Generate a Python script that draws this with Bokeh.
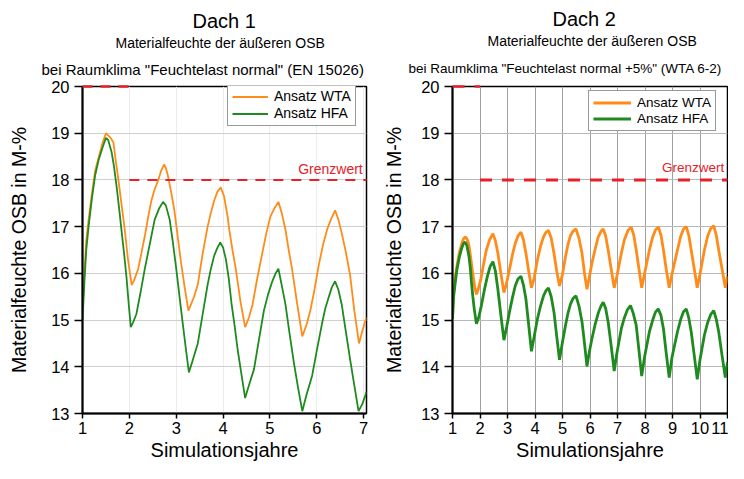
from bokeh.plotting import figure
from bokeh.models import Range1d, Label, Legend, LegendItem, FixedTicker, Title
from bokeh.layouts import row
from bokeh.embed import file_html
from bokeh.resources import INLINE

FONT = "Liberation Sans"
ORANGE = "#ff8c1a"
GREEN = "#1f8a1f"
RED = "#e8202a"

# ---------------- Dach 1 data ----------------
d1_wta_x = [1.00, 1.04, 1.08, 1.13, 1.20, 1.27, 1.35, 1.43, 1.50, 1.55, 1.60, 1.66, 1.71, 1.76, 1.83, 1.90,
            1.97, 2.05, 2.10, 2.19, 2.26, 2.33, 2.40, 2.47, 2.54, 2.61, 2.68, 2.74, 2.78, 2.82, 2.89, 2.96,
            3.03, 3.10, 3.18, 3.26, 3.30, 3.38, 3.46, 3.56, 3.67, 3.74, 3.81, 3.88, 3.95, 4.02, 4.10, 4.13,
            4.20, 4.27, 4.37, 4.47, 4.55, 4.63, 4.73, 4.84, 4.92, 5.01, 5.10, 5.18, 5.25, 5.33, 5.40, 5.47,
            5.58, 5.69, 5.78, 5.86, 5.95, 6.04, 6.13, 6.22, 6.30, 6.39, 6.46, 6.53, 6.62, 6.71, 6.80, 6.90,
            6.98, 7.06]
d1_wta_y = [15.2, 16.0, 16.7, 17.15, 17.7, 18.2, 18.5, 18.8, 19.0, 18.95, 18.9, 18.8, 18.4, 18.05, 17.5, 16.95,
            16.3, 15.75, 15.85, 16.1, 16.45, 16.8, 17.2, 17.56, 17.8, 17.98, 18.2, 18.33, 18.25, 18.1, 17.75, 17.35,
            16.8, 16.25, 15.7, 15.2, 15.3, 15.5, 15.76, 16.4, 17.0, 17.3, 17.56, 17.75, 17.84, 17.65, 17.2, 16.94,
            16.5, 16.1, 15.4, 14.85, 15.05, 15.34, 15.9, 16.45, 16.85, 17.22, 17.4, 17.53, 17.3, 16.94, 16.5, 16.1,
            15.35, 14.65, 14.9, 15.2, 15.65, 16.17, 16.6, 16.94, 17.15, 17.35, 17.15, 16.87, 16.45, 15.96, 15.2, 14.5,
            14.8, 15.06]

d1_hfa_x = [1.00, 1.04, 1.08, 1.13, 1.20, 1.27, 1.35, 1.43, 1.50, 1.55, 1.62, 1.67, 1.73, 1.78, 1.83, 1.89,
            1.94, 1.99, 2.03, 2.08, 2.15, 2.24, 2.33, 2.44, 2.54, 2.64, 2.72, 2.78, 2.86, 2.93, 3.00, 3.07,
            3.14, 3.21, 3.27, 3.34, 3.46, 3.56, 3.67, 3.74, 3.81, 3.88, 3.94, 4.00, 4.06, 4.12, 4.18, 4.25,
            4.31, 4.39, 4.47, 4.55, 4.66, 4.76, 4.87, 4.96, 5.05, 5.12, 5.18, 5.24, 5.33, 5.42, 5.51, 5.60,
            5.69, 5.78, 5.90, 6.00, 6.11, 6.18, 6.25, 6.32, 6.39, 6.46, 6.53, 6.62, 6.71, 6.80, 6.89, 6.97,
            7.06]
d1_hfa_y = [15.0, 15.8, 16.5, 17.0, 17.6, 18.1, 18.45, 18.7, 18.9, 18.85, 18.6, 18.3, 17.84, 17.4, 16.94, 16.4,
            15.9, 15.3, 14.85, 14.95, 15.13, 15.6, 16.1, 16.65, 17.15, 17.4, 17.53, 17.45, 17.15, 16.65, 16.1, 15.5,
            14.92, 14.35, 13.88, 14.1, 14.5, 15.1, 15.76, 16.1, 16.38, 16.55, 16.66, 16.55, 16.3, 15.9, 15.35, 14.85,
            14.37, 13.85, 13.33, 13.6, 13.95, 14.55, 15.2, 15.55, 15.83, 16.0, 16.1, 15.8, 15.34, 14.7, 14.09, 13.55,
            13.05, 13.4, 13.81, 14.35, 14.92, 15.25, 15.48, 15.7, 15.83, 15.65, 15.34, 14.75, 14.16, 13.6, 13.05, 13.2,
            13.46]

# ---------------- Dach 2 data ----------------
d2_wta_x = [1.00, 1.03, 1.08, 1.16, 1.25, 1.34, 1.41, 1.48, 1.54, 1.60, 1.67, 1.75, 1.81, 1.87, 1.93, 2.03,
            2.13, 2.23, 2.35, 2.47, 2.56, 2.65, 2.76, 2.87, 2.95, 3.07, 3.18, 3.28, 3.38, 3.49, 3.58, 3.67,
            3.77, 3.87, 3.97, 4.09, 4.20, 4.31, 4.40, 4.49, 4.59, 4.69, 4.79, 4.89, 4.99, 5.11, 5.20, 5.29,
            5.38, 5.49, 5.60, 5.71, 5.80, 5.89, 5.97, 6.07, 6.18, 6.30, 6.40, 6.48, 6.57, 6.66, 6.77, 6.88,
            6.98, 7.14, 7.25, 7.38, 7.50, 7.59, 7.68, 7.78, 7.88, 7.98, 8.16, 8.28, 8.38, 8.49, 8.58, 8.67,
            8.77, 8.88, 8.98, 9.18, 9.30, 9.40, 9.50, 9.59, 9.68, 9.79, 9.90, 10.00, 10.16, 10.28, 10.39, 10.50,
            10.59, 10.68, 10.80, 10.92, 11.00]
d2_wta_y = [15.05, 15.5, 15.85, 16.15, 16.45, 16.64, 16.75, 16.78, 16.72, 16.6, 16.3, 15.94, 15.7, 15.55, 15.65, 15.87,
            16.2, 16.5, 16.72, 16.85, 16.7, 16.43, 16.0, 15.59, 15.75, 16.08, 16.4, 16.64, 16.8, 16.88, 16.72, 16.43,
            16.05, 15.69, 15.9, 16.29, 16.58, 16.78, 16.88, 16.92, 16.75, 16.43, 16.05, 15.73, 15.95, 16.36, 16.62, 16.81,
            16.9, 16.95, 16.75, 16.43, 16.0, 15.66, 15.9, 16.22, 16.5, 16.78, 16.9, 16.95, 16.8, 16.5, 16.1, 15.69,
            15.95, 16.43, 16.72, 16.92, 16.99, 16.82, 16.5, 16.1, 15.69, 15.98, 16.5, 16.78, 16.93, 16.99, 16.82, 16.5,
            16.1, 15.69, 15.98, 16.5, 16.8, 16.95, 17.0, 16.82, 16.5, 16.1, 15.69, 15.98, 16.5, 16.8, 16.96, 17.02,
            16.82, 16.5, 16.1, 15.69, 15.94]

d2_hfa_x = [1.00, 1.04, 1.10, 1.16, 1.25, 1.34, 1.40, 1.46, 1.52, 1.60, 1.65, 1.69, 1.74, 1.79, 1.87, 1.95,
            2.05, 2.16, 2.27, 2.37, 2.47, 2.56, 2.65, 2.76, 2.87, 2.97, 3.07, 3.18, 3.28, 3.38, 3.49, 3.58,
            3.67, 3.77, 3.87, 3.97, 4.09, 4.20, 4.31, 4.40, 4.49, 4.59, 4.69, 4.79, 4.89, 4.99, 5.11, 5.20,
            5.29, 5.38, 5.49, 5.60, 5.71, 5.80, 5.89, 5.97, 6.07, 6.18, 6.30, 6.40, 6.48, 6.57, 6.66, 6.77,
            6.88, 6.98, 7.14, 7.25, 7.36, 7.47, 7.57, 7.68, 7.78, 7.88, 7.98, 8.16, 8.28, 8.38, 8.48, 8.58,
            8.67, 8.77, 8.88, 8.98, 9.18, 9.30, 9.40, 9.50, 9.59, 9.68, 9.79, 9.90, 10.00, 10.16, 10.28, 10.39,
            10.50, 10.59, 10.68, 10.80, 10.92, 11.00]
d2_hfa_y = [15.03, 15.5, 15.8, 16.08, 16.35, 16.55, 16.64, 16.67, 16.6, 16.36, 16.1, 15.8, 15.5, 15.24, 14.92, 15.05,
            15.31, 15.65, 15.94, 16.15, 16.25, 16.05, 15.66, 15.1, 14.57, 14.85, 15.17, 15.48, 15.73, 15.88, 15.94, 15.75,
            15.45, 14.9, 14.33, 14.65, 15.03, 15.3, 15.52, 15.63, 15.69, 15.5, 15.17, 14.65, 14.15, 14.5, 14.89, 15.15,
            15.34, 15.46, 15.52, 15.3, 14.96, 14.5, 14.01, 14.3, 14.6, 14.89, 15.15, 15.3, 15.38, 15.25, 14.96, 14.45,
            13.91, 14.3, 14.82, 15.05, 15.22, 15.31, 15.15, 14.89, 14.35, 13.8, 14.2, 14.75, 15.0, 15.17, 15.24, 15.1,
            14.82, 14.3, 13.77, 14.2, 14.75, 15.02, 15.18, 15.24, 15.05, 14.75, 14.25, 13.73, 14.15, 14.68, 14.95, 15.12,
            15.2, 15.02, 14.75, 14.25, 13.77, 14.1]

# limit lines
grenz_value = 18
top_value = 20
d1_grenz_x = [2.0, 7.06]
d1_top_x = [1.0, 2.0]
d2_grenz_x = [2.0, 11.0]
d2_top_x = [1.0, 2.0]

y_ticks = [13, 14, 15, 16, 17, 18, 19, 20]
d1_x_ticks = [1, 2, 3, 4, 5, 6, 7]
d2_x_ticks = [1, 2, 3, 4, 5, 6, 7, 8, 9, 10, 11]

titles = ["Dach 1", "Dach 2"]
sub1 = ["Materialfeuchte der äußeren OSB", "Materialfeuchte der äußeren OSB"]
sub2 = ['bei Raumklima "Feuchtelast normal" (EN 15026)', 'bei Raumklima "Feuchtelast normal +5%" (WTA 6-2)']
legend_labels = ["Ansatz WTA", "Ansatz HFA"]
limit_label = "Grenzwert"

H = 463


def make_fig(width, border_left, border_right, border_top, border_bottom, x_end, x_ticks,
             vgrid_color, hgrid_color):
    p = figure(width=width, height=H, output_backend="svg", toolbar_location=None,
               x_range=Range1d(1, x_end), y_range=Range1d(13, 20),
               min_border_left=border_left, min_border_right=border_right,
               min_border_top=border_top, min_border_bottom=border_bottom)
    p.background_fill_color = "white"
    p.border_fill_color = "white"
    p.outline_line_color = "black"
    p.outline_line_width = 1.5
    p.xaxis.ticker = FixedTicker(ticks=x_ticks)
    p.yaxis.ticker = FixedTicker(ticks=y_ticks)
    for ax in (p.xaxis[0], p.yaxis[0]):
        ax.axis_line_color = "black"
        ax.axis_line_width = 2
        ax.major_tick_line_color = "black"
        ax.major_tick_line_width = 1.5
        ax.major_tick_in = 0
        ax.minor_tick_line_color = None
        ax.major_label_text_font = FONT
        ax.major_label_text_font_size = "16.5px"
        ax.major_label_text_color = "black"
        ax.axis_label_text_font = FONT
        ax.axis_label_text_font_style = "normal"
        ax.axis_label_text_color = "black"
    p.xaxis.axis_label_text_font_size = "20px"
    p.yaxis.axis_label_text_font_size = "19.5px"
    p.yaxis.major_tick_out = 8
    p.xaxis.major_tick_out = 5
    p.yaxis.major_label_standoff = 5
    p.xaxis.major_label_standoff = 3
    p.xaxis.axis_label = "Simulationsjahre"
    p.yaxis.axis_label = "Materialfeuchte OSB in M-%"
    p.xaxis.axis_label_standoff = 2
    p.xgrid.ticker = FixedTicker(ticks=x_ticks)
    p.ygrid.ticker = FixedTicker(ticks=y_ticks)
    p.xgrid.grid_line_color = vgrid_color
    p.ygrid.grid_line_color = hgrid_color
    p.xgrid.grid_line_width = 1
    p.ygrid.grid_line_width = 1
    return p


def add_titles(p, i, offs, s2_size, first_standoff):
    # first added sits closest to the frame
    p.add_layout(Title(text=sub2[i], align="left", text_font=FONT, text_font_size=s2_size,
                       text_font_style="normal", text_color="black", standoff=first_standoff,
                       offset=offs[2]), "above")
    p.add_layout(Title(text=sub1[i], align="left", text_font=FONT, text_font_size="14px",
                       text_font_style="normal", text_color="black", standoff=0, offset=offs[1]), "above")
    p.add_layout(Title(text=titles[i], align="left", text_font=FONT, text_font_size="20px",
                       text_font_style="normal", text_color="black", standoff=2, offset=offs[0]), "above")


def add_legend(p, ra, rb, loc, fsize, gw):
    lg = Legend(items=[LegendItem(label=legend_labels[0], renderers=[ra]),
                       LegendItem(label=legend_labels[1], renderers=[rb])],
                location=loc)
    lg.label_text_font = FONT
    lg.label_text_font_size = fsize
    lg.label_text_color = "black"
    lg.glyph_width = gw
    lg.glyph_height = 15
    lg.label_height = 15
    lg.label_standoff = 6
    lg.spacing = 1
    lg.padding = 4
    lg.border_line_color = "#333333"
    lg.border_line_width = 1
    lg.background_fill_color = "white"
    lg.background_fill_alpha = 1
    p.add_layout(lg)


# ---------------- Figure 1 ----------------
p1 = make_fig(372, 82, 6, 83, 48, 7.06, d1_x_ticks, "#ececec", "#cfcfcf")
p1.yaxis.axis_label_standoff = 18
r1a = p1.line(d1_wta_x, d1_wta_y, line_color=ORANGE, line_width=1.8)
r1b = p1.line(d1_hfa_x, d1_hfa_y, line_color=GREEN, line_width=1.8)
p1.line(d1_grenz_x, [grenz_value, grenz_value], line_color=RED, line_width=2, line_dash="10 8")
p1.line(d1_top_x, [top_value, top_value], line_color=RED, line_width=2.5, line_dash="10 8", level="overlay")
add_titles(p1, 0, (110, 33, -41), "15px", 17)
p1.add_layout(Label(x=6.98, y=18.23, text=limit_label, text_font=FONT, text_font_size="14px",
                    text_align="right", text_baseline="middle", text_color=RED))
add_legend(p1, r1a, r1b, (145, 287), "14px", 36)

# ---------------- Figure 2 ----------------
p2 = make_fig(356, 80, 1, 86, 48, 11, d2_x_ticks, "#a0a0a0", "#b8b8b8")
p2.yaxis.axis_label_standoff = 13
r2a = p2.line(d2_wta_x, d2_wta_y, line_color=ORANGE, line_width=2.8)
r2b = p2.line(d2_hfa_x, d2_hfa_y, line_color=GREEN, line_width=2.8)
p2.line(d2_grenz_x, [grenz_value, grenz_value], line_color=RED, line_width=3, line_dash="12 10")
p2.line(d2_top_x, [top_value, top_value], line_color=RED, line_width=2.5, line_dash="12 10", level="overlay")
add_titles(p2, 1, (100, 35, -44), "13.5px", 21)
p2.add_layout(Label(x=10.88, y=18.26, text=limit_label, text_font=FONT, text_font_size="13.5px",
                    text_align="right", text_baseline="middle", text_color=RED))
add_legend(p2, r2a, r2b, (136, 282), "13.5px", 38)

layout = row(p1, p2)
open("out.html", "w").write(file_html(layout, INLINE))
